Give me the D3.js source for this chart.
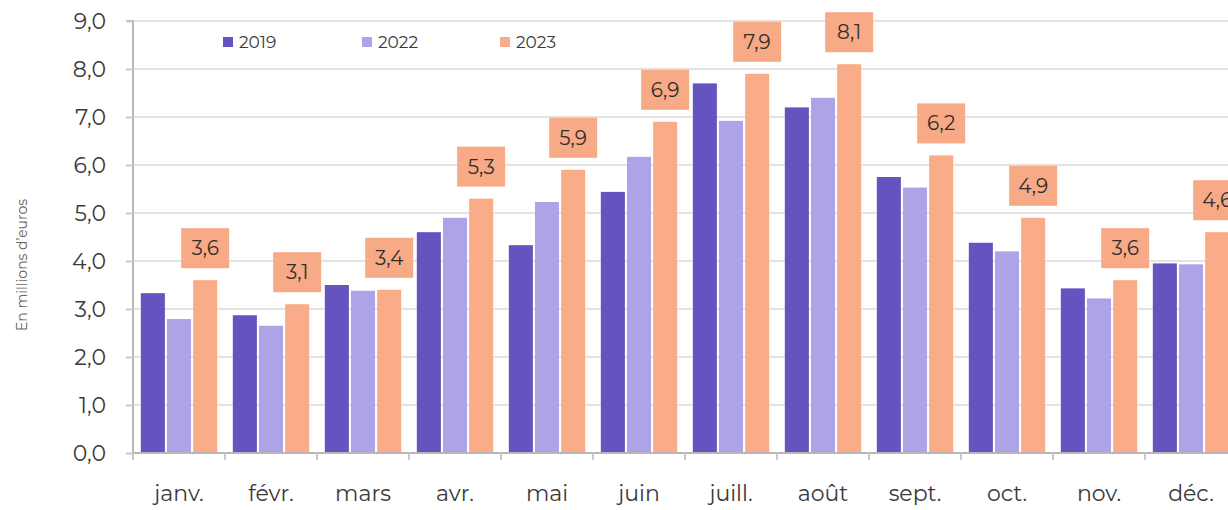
<!DOCTYPE html>
<html><head><meta charset="utf-8">
<script src="https://cdn.jsdelivr.net/npm/d3@7"></script>
<style>body{margin:0;background:#fff}svg{display:block}</style>
</head><body>
<svg id="c" width="1228" height="510"></svg>
<script>
const months = ["janv.","févr.","mars","avr.","mai","juin","juill.","août","sept.","oct.","nov.","déc."];
const seriesNames = ["2019","2022","2023"];
const v2019 = [3.33,2.87,3.5,4.6,4.33,5.44,7.7,7.2,5.75,4.38,3.43,3.95];
const v2022 = [2.79,2.65,3.38,4.9,5.23,6.17,6.92,7.4,5.53,4.2,3.22,3.93];
const v2023 = [3.6,3.1,3.4,5.3,5.9,6.9,7.9,8.1,6.2,4.9,3.6,4.6];
const labels2023 = ["3,6","3,1","3,4","5,3","5,9","6,9","7,9","8,1","6,2","4,9","3,6","4,6"];
const yTicks = [0,1,2,3,4,5,6,7,8,9];
const colors = ["#6553BF","#ACA4E6","#F9AC87"];
const boxColor = "#F8A985";
const font = "Montserrat, 'Open Sans', sans-serif";

const svg = d3.select("#c");
const x0 = 133, x1 = 1237, yBase = 453, yTop = 21;
const x = d3.scaleBand().domain(months).range([x0, x1]).paddingInner(0.17).paddingOuter(0.085);
const xb = d3.scaleBand().domain(months).range([x0, x1]);
const xs = d3.scaleBand().domain(seriesNames).range([0, x.bandwidth()]).paddingInner(0.08);
const y = d3.scaleLinear().domain([0, 9]).range([yBase, yTop]);

// gridlines
svg.append("g").selectAll("line").data(yTicks.filter(d=>d>0)).join("line")
  .attr("x1", x0).attr("x2", 1228).attr("y1", d=>y(d)).attr("y2", d=>y(d))
  .attr("stroke", "#e3e3e3").attr("stroke-width", 2);

// y axis
const ya = svg.append("g").attr("transform", `translate(${x0},0)`)
  .call(d3.axisLeft(y).tickValues(yTicks).tickSize(7).tickPadding(20)
    .tickFormat(d => d3.format(".1f")(d).replace(".", ",")));
ya.select(".domain").attr("stroke", "#b8b8b8").attr("stroke-width", 2).attr("d", `M-7,${yTop}H0V${yBase}`);
ya.selectAll(".tick line").attr("stroke", "#c8c8c8").attr("stroke-width", 2);
ya.selectAll("text").attr("font-family", font).attr("font-size", 22).attr("fill", "#3a3a3a");

// bars
const data = months.map((m,i)=>({m, vals:[v2019[i], v2022[i], v2023[i]]}));
const g = svg.append("g").selectAll("g").data(data).join("g")
  .attr("transform", d=>`translate(${x(d.m)},0)`);
g.selectAll("rect").data(d=>d.vals.map((v,j)=>({v, s:seriesNames[j], j}))).join("rect")
  .attr("x", d=>xs(d.s)).attr("width", xs.bandwidth())
  .attr("y", d=>y(d.v)).attr("height", d=>yBase - y(d.v))
  .attr("fill", d=>colors[d.j]);

// x axis
const xa = svg.append("g").attr("transform", `translate(0,${yBase})`)
  .call(d3.axisBottom(xb).tickSize(0).tickPadding(32));
xa.select(".domain").attr("stroke", "#b8b8b8").attr("stroke-width", 2).attr("d", `M${x0},0H1228`);
xa.selectAll("text").attr("font-family", font).attr("font-size", 22).attr("fill", "#3a3a3a");
svg.append("g").selectAll("line").data(months.map((m,i)=>i)).join("line")
  .attr("x1", i=>x0 + i*xb.step()).attr("x2", i=>x0 + i*xb.step())
  .attr("y1", yBase).attr("y2", yBase+7).attr("stroke", "#c8c8c8").attr("stroke-width", 2);

// labels for 2023
const lbl = svg.append("g").selectAll("g").data(months.map((m,i)=>({m, v:v2023[i], t:labels2023[i]}))).join("g")
  .attr("transform", d=>`translate(${x(d.m)+xs("2023")+xs.bandwidth()/2},${y(d.v)-12})`);
lbl.append("rect").attr("x", -24).attr("y", -40).attr("width", 48).attr("height", 40).attr("fill", boxColor);
lbl.append("text").attr("y", -13).attr("text-anchor", "middle").attr("font-family", font)
  .attr("font-size", 20).attr("fill", "#2f2f2f").text(d=>d.t);

// legend
const legX = [223, 362, 500];
const leg = svg.append("g").selectAll("g").data(seriesNames).join("g")
  .attr("transform", (d,i)=>`translate(${legX[i]},42)`);
leg.append("rect").attr("x", 0).attr("y", -5).attr("width", 10).attr("height", 10).attr("fill", (d,i)=>colors[i]);
leg.append("text").attr("x", 16).attr("y", 6).attr("font-family", font).attr("font-size", 17)
  .attr("fill", "#3a3a3a").text(d=>d);

// y title
svg.append("text").attr("transform", "translate(27,265) rotate(-90)").attr("text-anchor", "middle")
  .attr("font-family", font).attr("font-size", 14).attr("fill", "#666").text("En millions d’euros");
</script>
</body></html>
